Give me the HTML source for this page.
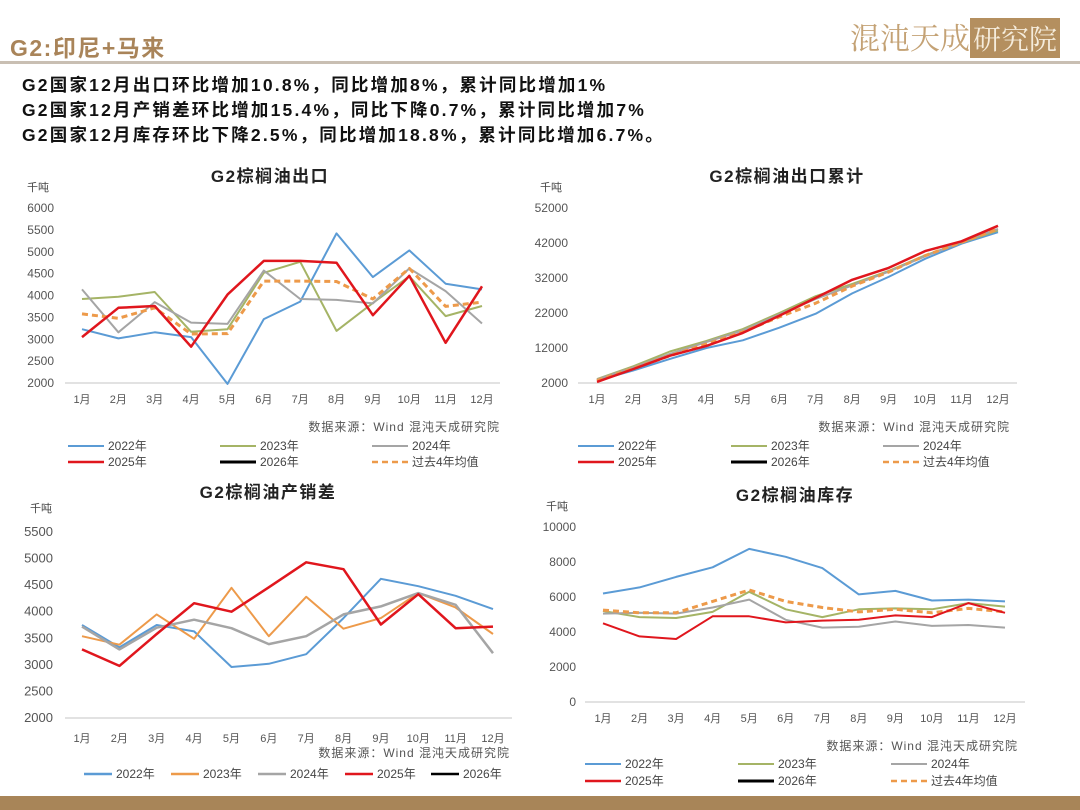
<!DOCTYPE html>
<html><head><meta charset="utf-8">
<style>
html,body{margin:0;padding:0;background:#fff;}
body{width:1080px;height:810px;position:relative;overflow:hidden;font-family:"Liberation Sans","Noto Sans CJK SC",sans-serif;}
.hdr{position:absolute;left:10px;top:29px;font-size:23px;font-weight:bold;color:#a98459;letter-spacing:1.5px;}
.line{position:absolute;left:0;top:61px;width:1080px;height:3px;background:#c9bfb3;}
.txt{position:absolute;left:22px;font-size:17.5px;font-weight:bold;color:#111;letter-spacing:2.2px;}
.logo{position:absolute;left:850px;top:14px;font-family:"Noto Serif CJK SC",serif;font-size:30px;color:#c4a275;}
.logo span{background:#b48f5f;color:#f5ecdc;padding:0 3px;font-size:28px;}
.bottom{position:absolute;left:0;top:796px;width:1080px;height:14px;background:#a88558;}
svg{position:absolute;left:0;top:0;}
</style></head><body>
<div class="hdr">G2:印尼+马来</div>
<div class="logo">混沌天成<span>研究院</span></div>
<div class="line"></div>
<div class="txt" style="top:72px">G2国家12月出口环比增加10.8%，同比增加8%，累计同比增加1%</div>
<div class="txt" style="top:97px">G2国家12月产销差环比增加15.4%，同比下降0.7%，累计同比增加7%</div>
<div class="txt" style="top:122px">G2国家12月库存环比下降2.5%，同比增加18.8%，累计同比增加6.7%。</div>
<div class="bottom"></div>
<svg id="svg" width="1080" height="810"></svg>
<script>
const months = ["1月","2月","3月","4月","5月","6月","7月","8月","9月","10月","11月","12月"];

const exp2022 = [3230,3020,3160,3050,1980,3460,3860,5420,4420,5030,4270,4140];
const exp2023 = [3920,3970,4080,3170,3230,4520,4770,3190,3830,4440,3530,3760];
const exp2024 = [4140,3160,3850,3380,3350,4570,3920,3900,3820,4620,4100,3360];
const exp2025 = [3050,3720,3760,2830,4020,4790,4790,4750,3550,4450,2920,4210];
const expAvg  = [3580,3480,3720,3120,3130,4330,4330,4320,3920,4620,3750,3850];
const expTicks = [2000,2500,3000,3500,4000,4500,5000,5500,6000];

const cum2022 = [2700,5600,8900,12000,14200,17800,21800,27600,32300,37500,41800,45100];
const cum2023 = [3100,6800,11000,14000,17400,22000,26800,30300,34000,38500,42100,45600];
const cum2024 = [3000,6500,10300,13700,17000,21600,26000,29900,33800,38200,42300,46000];
const cum2025 = [2300,6000,9800,12600,16300,21200,26300,31500,34900,39700,42500,46900];
const cumAvg  = [2700,6200,9800,13100,16600,20900,24800,29700,33700,38400,42200,46000];
const cumTicks = [2000,12000,22000,32000,42000,52000];

const dif2022 = [3750,3330,3750,3630,2960,3020,3200,3880,4620,4480,4300,4050];
const dif2023 = [3540,3380,3950,3490,4450,3540,4280,3680,3880,4350,4080,3580];
const dif2024 = [3720,3290,3700,3850,3690,3390,3540,3950,4100,4350,4130,3220];
const dif2025 = [3290,2980,3580,4160,4000,4460,4930,4800,3760,4330,3690,3720];
const difTicks = [2000,2500,3000,3500,4000,4500,5000,5500];

const inv2022 = [6200,6550,7150,7700,8750,8300,7650,6150,6350,5800,5850,5750];
const inv2023 = [5200,4850,4800,5150,6300,5300,4850,5300,5350,5300,5650,5450];
const inv2024 = [5050,5100,5050,5400,5850,4700,4250,4300,4600,4350,4400,4250];
const inv2025 = [4500,3750,3600,4900,4900,4550,4650,4700,4950,4850,5650,5100];
const invAvg  = [5250,5100,5100,5750,6400,5750,5400,5150,5300,5100,5350,5150];
const invTicks = [0,2000,4000,6000,8000,10000];

const NS="http://www.w3.org/2000/svg";
const svg=document.getElementById('svg');
function mk(tag,attrs,parent){const e=document.createElementNS(NS,tag);for(const k in attrs)e.setAttribute(k,attrs[k]);(parent||svg).appendChild(e);return e;}
function txt(x,y,s,size,anchor,extra,parent){const t=mk('text',Object.assign({x:x,y:y,'font-size':size,'text-anchor':anchor||'start',fill:'#444','font-family':'Liberation Sans, Noto Sans CJK SC, sans-serif'},extra||{}),parent);t.textContent=s;return t;}

const C={b:'#5b9bd5',g:'#a5b466',gr:'#a5a5a5',r:'#e0161d',o:'#ed9a4a',k:'#000'};

function chart(cfg){
  const g=mk('g',{});
  
  
  const ymin=cfg.ticks[0], ymax=cfg.ticks[cfg.ticks.length-1];
  const Y=v=>cfg.y0-(v-ymin)/(ymax-ymin)*(cfg.y0-cfg.y1);
  const X=i=>cfg.x0+i*(cfg.x1-cfg.x0)/11;
  const t=txt(cfg.tx,cfg.ty,cfg.title,17,'middle',{'font-weight':'bold',fill:'#222','letter-spacing':'1.5'},g);
  
  
  const u=txt(cfg.ux,cfg.uy,'千吨',11,'start',{fill:'#444'},g);
  
  
  const ax=mk('line',{x1:cfg.ax0,x2:cfg.ax1,y1:cfg.y0,y2:cfg.y0,stroke:'#d9d9d9','stroke-width':1.5},g);
  
  
  cfg.ticks.forEach(v=>{
    const l=txt(cfg.ylx,Y(v)+4,String(v),cfg.tickSize||12,'end',{fill:'#555'},g);
    
    
  });
  months.forEach((m,i)=>{
    const l=txt(X(i),cfg.y0+cfg.xlOff,m,11,'middle',{fill:'#555'},g);
    
    
  });
  cfg.series.forEach(s=>{
    const pts=s.data.map((v,i)=>X(i).toFixed(1)+','+Y(v).toFixed(1)).join(' ');
    const a={points:pts,fill:'none',stroke:s.c,'stroke-width':s.w,'stroke-linejoin':'round'};
    if(s.dash)a['stroke-dasharray']='6,4';
    const p=mk('polyline',a,g);
    
    
  });
  const src=txt(cfg.srcx,cfg.srcy,'数据来源：Wind  混沌天成研究院',12,'end',{fill:'#555','letter-spacing':'1'},g);
  
  
  cfg.legend.forEach(L=>{
    const a={x1:L.x,x2:L.x+L.len,y1:L.y-4,y2:L.y-4,stroke:L.c,'stroke-width':L.w};
    if(L.dash)a['stroke-dasharray']='6,4';
    const ln=mk('line',a,g);
    
    
    const lt=txt(L.x+L.len+4,L.y,L.label,12,'start',{fill:'#444'},g);
    
    
  });
}
function leg6(xs,ys){
  const it=[['2022年',C.b,2,0],['2023年',C.g,2,0],['2024年',C.gr,2,0],['2025年',C.r,2.5,0],['2026年',C.k,3,0],['过去4年均值',C.o,2.5,1]];
  return it.map((d,i)=>({label:d[0],c:d[1],w:d[2],dash:d[3],x:xs[i%3],y:ys[Math.floor(i/3)],len:36}));
}
chart({name:'export-chart',title:'G2棕榈油出口',tx:270,ty:182,ux:27,uy:191,ticks:expTicks,y0:383,y1:208,x0:82,x1:482,ax0:65,ax1:500,ylx:54,xlOff:20,
  series:[{label:'2022',data:exp2022,c:C.b,w:2},{label:'2023',data:exp2023,c:C.g,w:2},{label:'2024',data:exp2024,c:C.gr,w:2},{label:'avg',data:expAvg,c:C.o,w:3,dash:1},{label:'2025',data:exp2025,c:C.r,w:2.5}],
  srcx:500,srcy:431,legend:leg6([68,220,372],[450,466])});
chart({name:'cumulative-export-chart',title:'G2棕榈油出口累计',tx:787,ty:182,ux:540,uy:191,ticks:cumTicks,y0:383,y1:208,x0:597,x1:998,ax0:578,ax1:1017,ylx:568,xlOff:20,
  series:[{label:'2022',data:cum2022,c:C.b,w:2},{label:'2023',data:cum2023,c:C.g,w:2},{label:'2024',data:cum2024,c:C.gr,w:2},{label:'avg',data:cumAvg,c:C.o,w:3,dash:1},{label:'2025',data:cum2025,c:C.r,w:2.5}],
  srcx:1010,srcy:431,legend:leg6([578,731,883],[450,466])});
chart({name:'production-sales-gap-chart',title:'G2棕榈油产销差',tx:268,ty:498,ux:30,uy:512,ticks:difTicks,y0:718,y1:532,x0:82,x1:493,ax0:65,ax1:512,ylx:53,xlOff:24,tickSize:13,
  series:[{label:'2022',data:dif2022,c:C.b,w:2},{label:'2023',data:dif2023,c:C.o,w:2},{label:'2024',data:dif2024,c:C.gr,w:2.5},{label:'2025',data:dif2025,c:C.r,w:2.5}],
  srcx:510,srcy:757,legend:[['2022年',C.b,84],['2023年',C.o,171],['2024年',C.gr,258],['2025年',C.r,345],['2026年',C.k,431]].map(d=>({label:d[0],c:d[1],w:2.5,x:d[2],y:778,len:28}))});
chart({name:'inventory-chart',title:'G2棕榈油库存',tx:795,ty:501,ux:546,uy:510,ticks:invTicks,y0:702,y1:527,x0:603,x1:1005,ax0:585,ax1:1025,ylx:576,xlOff:20,
  series:[{label:'2022',data:inv2022,c:C.b,w:2},{label:'2023',data:inv2023,c:C.g,w:2},{label:'2024',data:inv2024,c:C.gr,w:2},{label:'avg',data:invAvg,c:C.o,w:3,dash:1},{label:'2025',data:inv2025,c:C.r,w:2}],
  srcx:1018,srcy:750,legend:leg6([585,738,891],[768,785])});
</script>
</body></html>
